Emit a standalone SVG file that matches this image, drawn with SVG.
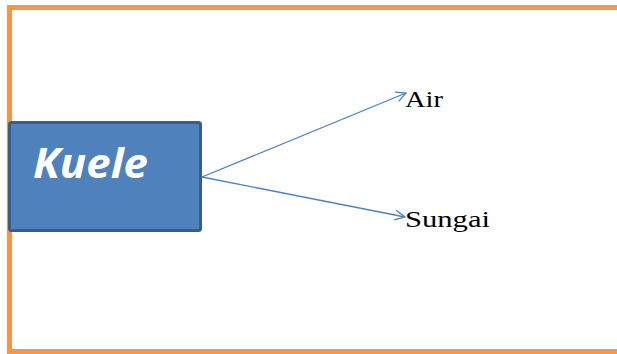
<svg xmlns="http://www.w3.org/2000/svg" width="617" height="354" viewBox="0 0 617 354">
<defs>
<style>
.frame{fill:none;stroke:#F79646;stroke-width:5}
.box{fill:#4F81BD;stroke:#385D8A;stroke-width:3}
.lbl{font-family:"Open Sans",sans-serif;font-weight:bold;font-style:italic;font-size:42px;fill:#FFFFFF}
.conn{fill:none;stroke:#4F81BD;stroke-width:1.3}
.tgt{font-family:"Liberation Serif",serif;font-size:24px;fill:#000000}
</style>
<marker id="open" viewBox="0 0 12 12" refX="11" refY="6" markerWidth="12" markerHeight="12" markerUnits="userSpaceOnUse" orient="auto">
<path d="M1,1 L11,6 L1,11" fill="none" stroke="#4F81BD" stroke-width="1.3"/>
</marker>
</defs>
<rect class="frame" x="9.5" y="7.5" width="620" height="344"/>
<g id="kuele">
<rect class="box" x="9.5" y="122.5" width="191" height="108" rx="2"/>
<text class="lbl" x="33" y="178" textLength="115" lengthAdjust="spacingAndGlyphs">Kuele</text>
</g>
<g id="air">
<text class="tgt" x="405" y="107" textLength="38" lengthAdjust="spacingAndGlyphs">Air</text>
</g>
<g id="sungai">
<text class="tgt" x="405" y="227" textLength="85" lengthAdjust="spacingAndGlyphs">Sungai</text>
</g>
<g id="connectors">
<line class="conn" x1="202" y1="177" x2="406" y2="93" marker-end="url(#open)"/>
<line class="conn" x1="202" y1="177" x2="405" y2="217" marker-end="url(#open)"/>
</g>
</svg>
